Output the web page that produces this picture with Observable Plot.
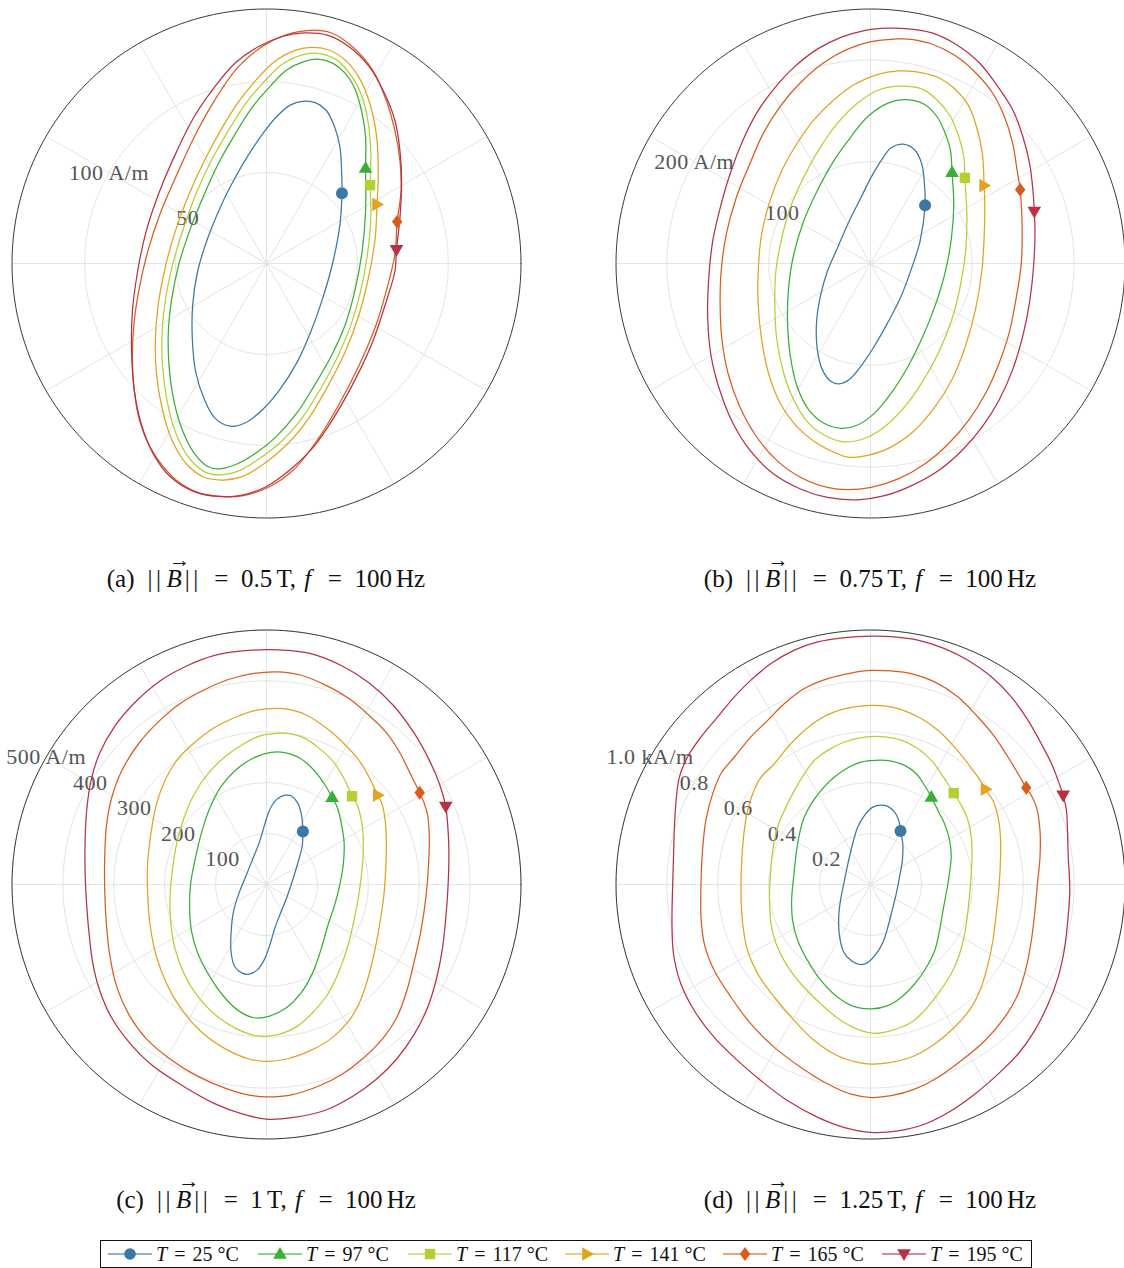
<!DOCTYPE html>
<html><head><meta charset="utf-8">
<script src="https://cdn.jsdelivr.net/npm/d3@7"></script>
<script src="https://cdn.jsdelivr.net/npm/@observablehq/plot@0.6"></script>
<style>
html,body{margin:0;padding:0;background:#fff;}
body{width:1124px;height:1268px;overflow:hidden;position:relative;font-family:'Liberation Serif','DejaVu Serif',serif;color:#111;}
.panel{position:absolute;}
.panel svg text{letter-spacing:0.5px;}
.cap{position:absolute;font-size:25px;line-height:1;white-space:nowrap;transform:translateX(-50%);}
.cap .lab{margin-right:13px;}
.cap .bars{letter-spacing:3.5px;}
.cap .rel{margin:0 0.5em;}
.cap .fi{margin:0 4px 0 2px;}
.vec{position:relative;font-style:italic;margin:0 3px 0 2px;}
.vec::after{content:"\2192";position:absolute;left:0.1em;top:-0.72em;font-size:0.85em;font-style:normal;}
#legend{position:absolute;left:100px;top:1240px;width:930px;height:26px;border:1px solid #111;}
.li{position:absolute;top:0;height:26px;display:flex;align-items:center;font-size:20px;white-space:nowrap;}
.li svg{margin-right:4px;}
.li .rel{margin:0 0.35em;}
</style></head><body>
<div id="root"></div>
<script>
// ---------- data ----------
const temps = [25, 97, 117, 141, 165, 195];
const colors = ["#3b78a5", "#3aae37", "#b3d134", "#e0a322", "#d95c1f", "#b73244"];
const captions = ["(a)", "(b)", "(c)", "(d)"];
const fluxDensity = ["0.5", "0.75", "1", "1.25"];
const frequency = "100";

// panel (a): H in A/m, [Hx, Hy]
const a25 = [[41.5,38.6],[41.3,51.1],[40.4,64.0],[37.5,75.1],[32.8,84.3],[27.2,88.4],[20.6,89.3],[13.0,87.1],[5.5,80.7],[-2.1,71.3],[-9.6,60.3],[-17.2,47.3],[-24.7,32.5],[-32.3,14.0],[-37.9,-4.4],[-40.6,-22.9],[-40.8,-41.5],[-38.9,-59.9],[-34.2,-74.7],[-28.5,-84.9],[-20.0,-89.5],[-11.5,-87.6],[-2.1,-80.3],[7.4,-69.2],[16.8,-54.4],[24.3,-37.7],[30.9,-19.2],[36.6,1.1],[40.4,21.5]];
const a97 = [[54.5,52.5],[54.5,69.5],[52.6,82.5],[48.9,95.5],[43.2,104.7],[35.7,110.5],[28.1,112.4],[20.6,111.1],[11.1,106.5],[1.7,97.2],[-7.7,86.1],[-17.2,71.3],[-26.6,54.7],[-34.2,38.1],[-41.7,19.6],[-48.3,-0.8],[-52.1,-19.2],[-54.0,-37.7],[-53.6,-56.3],[-51.1,-74.7],[-46.4,-91.3],[-39.8,-104.3],[-32.3,-111.7],[-26.6,-113.0],[-17.2,-110.7],[-5.8,-104.3],[5.5,-95.1],[16.8,-82.1],[26.2,-67.3],[35.7,-50.7],[43.2,-34.0],[48.9,-13.7],[52.6,6.7],[54.5,28.8]];
const a117 = [[57.0,43.1],[57.4,60.3],[56.0,76.9],[52.6,91.7],[47.0,102.8],[38.5,112.0],[27.2,115.7],[18.7,114.5],[8.3,109.3],[-2.1,99.1],[-11.5,88.0],[-20.9,73.2],[-30.4,56.5],[-38.9,38.1],[-45.5,19.6],[-51.7,-0.8],[-55.5,-19.2],[-57.4,-37.7],[-57.2,-56.3],[-54.5,-76.5],[-49.6,-94.1],[-42.6,-107.0],[-34.2,-114.5],[-25.7,-116.3],[-15.3,-114.1],[-4.0,-107.4],[8.3,-97.8],[19.6,-84.9],[29.6,-69.2],[38.5,-52.5],[46.0,-35.0],[51.7,-15.5],[55.5,4.8],[57.4,25.2]];
const a141 = [[60.8,32.5],[61.5,51.1],[60.6,69.5],[57.4,86.1],[51.7,100.9],[43.2,112.0],[33.8,117.6],[24.3,118.9],[14.9,117.0],[4.5,111.1],[-5.8,100.9],[-15.3,89.0],[-24.7,74.2],[-34.2,56.5],[-42.6,38.1],[-50.2,17.7],[-55.8,-2.5],[-59.6,-22.9],[-61.1,-41.5],[-60.6,-59.9],[-57.7,-78.4],[-52.1,-96.9],[-43.6,-110.7],[-34.2,-117.6],[-23.8,-119.1],[-13.4,-117.2],[-2.1,-110.7],[11.1,-99.7],[23.4,-84.9],[33.8,-67.3],[43.2,-48.8],[50.8,-28.5],[56.4,-6.3],[59.8,14.0]];
const a165 = [[71.9,22.9],[74.0,40.0],[73.4,56.5],[70.6,73.2],[65.8,89.9],[58.3,106.5],[47.0,119.5],[35.7,126.8],[24.3,128.3],[11.1,125.9],[-2.1,119.5],[-15.3,108.4],[-28.5,89.9],[-39.8,69.5],[-49.2,49.2],[-58.7,27.0],[-65.3,6.7],[-70.0,-13.7],[-72.8,-32.1],[-73.8,-50.7],[-72.8,-69.2],[-70.0,-85.8],[-64.3,-100.5],[-56.8,-111.7],[-47.4,-120.9],[-36.0,-126.5],[-22.8,-128.3],[-13.4,-127.8],[1.7,-122.8],[14.9,-113.5],[28.1,-96.9],[39.4,-78.4],[50.8,-56.3],[60.2,-34.0],[65.8,-15.5],[70.6,4.8]];
const a195 = [[71.5,7.5],[73.4,25.2],[74.3,43.6],[73.4,62.1],[70.6,78.8],[64.9,93.6],[56.4,108.4],[45.1,119.5],[33.8,125.5],[20.6,126.8],[9.2,125.0],[-4.0,119.5],[-17.2,110.3],[-28.5,97.2],[-39.8,80.7],[-49.2,62.1],[-58.7,40.0],[-66.2,17.7],[-70.9,-4.4],[-73.8,-26.7],[-74.2,-48.8],[-72.8,-69.2],[-69.1,-87.6],[-62.5,-104.3],[-53.0,-117.2],[-39.8,-125.5],[-24.7,-128.3],[-13.4,-127.4],[-0.2,-122.8],[13.0,-113.5],[26.2,-100.5],[37.5,-84.0],[48.9,-63.6],[58.3,-43.3],[65.8,-21.1],[70.6,-4.4]];

// panel (b): A/m
const b25 = [[53.6,57.3],[53.0,78.1],[50.3,98.0],[43.7,111.3],[32.1,117.2],[20.5,113.9],[10.6,101.3],[0.7,84.8],[-9.3,64.9],[-20.9,41.7],[-32.5,15.2],[-42.4,-7.9],[-49.0,-31.1],[-53.0,-57.6],[-52.3,-84.1],[-47.4,-104.0],[-39.1,-115.6],[-30.8,-118.2],[-20.9,-113.9],[-9.3,-100.7],[4.0,-80.8],[17.2,-57.6],[30.5,-31.1],[40.4,-4.6],[48.7,21.9]];
const b97 = [[80.1,89.7],[78.5,111.3],[73.5,127.8],[65.2,144.4],[53.6,156.0],[35.4,160.9],[17.2,157.6],[-2.6,144.4],[-19.2,124.5],[-35.8,101.3],[-52.3,71.5],[-65.6,41.7],[-75.5,8.6],[-80.5,-24.5],[-81.5,-57.6],[-78.8,-90.7],[-72.2,-120.5],[-60.6,-143.7],[-45.7,-157.0],[-29.1,-161.9],[-12.6,-158.6],[4.0,-147.0],[20.5,-127.2],[37.1,-100.7],[50.3,-74.2],[63.6,-41.1],[73.5,-7.9],[79.5,25.2],[81.8,58.3]];
const b117 = [[92.7,84.1],[91.7,104.6],[86.8,124.5],[78.5,144.4],[65.2,160.9],[50.3,171.5],[27.2,174.2],[7.3,170.2],[-12.6,157.6],[-32.5,137.7],[-49.0,114.6],[-65.6,84.8],[-78.8,55.0],[-87.1,25.2],[-93.0,-7.9],[-94.0,-41.1],[-92.1,-74.2],[-85.4,-107.3],[-75.5,-133.8],[-60.6,-157.0],[-42.4,-170.2],[-25.8,-175.2],[-6.0,-171.9],[13.9,-160.3],[33.8,-140.4],[50.3,-117.2],[66.9,-87.4],[80.1,-54.3],[88.4,-21.2],[93.4,11.9],[94.7,45.0]];
const b141 = [[111.6,76.5],[109.9,107.9],[105.0,131.1],[96.7,154.3],[83.4,170.9],[66.9,182.5],[43.7,188.4],[27.2,189.1],[7.3,185.8],[-15.9,175.8],[-35.8,160.9],[-55.6,141.1],[-72.2,117.9],[-87.1,91.4],[-98.7,61.6],[-107.0,28.5],[-110.3,-7.9],[-110.3,-41.1],[-107.0,-74.2],[-100.3,-107.3],[-88.7,-137.1],[-72.2,-160.3],[-52.3,-176.8],[-32.5,-186.8],[-22.5,-190.1],[-2.6,-188.4],[20.5,-180.1],[43.7,-163.6],[63.6,-140.4],[80.1,-113.9],[93.4,-80.8],[103.3,-44.4],[109.3,-7.9],[111.6,25.2],[112.3,58.3]];
const b165 = [[147.0,72.5],[144.0,91.4],[139.7,117.9],[131.5,144.4],[119.9,167.5],[103.3,187.4],[83.4,204.0],[60.3,215.6],[37.1,220.5],[23.8,220.5],[0.7,217.9],[-22.5,210.6],[-45.7,197.4],[-68.9,177.5],[-88.7,154.3],[-105.3,127.8],[-118.5,98.0],[-131.8,64.9],[-141.7,28.5],[-146.7,-7.9],[-147.7,-41.1],[-146.0,-74.2],[-140.1,-107.3],[-128.5,-140.4],[-111.9,-170.2],[-92.1,-193.4],[-68.9,-209.9],[-42.4,-219.9],[-22.5,-222.2],[0.7,-219.9],[27.2,-211.6],[53.6,-196.7],[76.8,-176.8],[96.7,-153.6],[113.2,-127.2],[126.5,-97.4],[136.4,-67.5],[143.0,-34.4],[148.0,-1.3],[149.0,31.8]];
const b195 = [[160.9,51.0],[159.6,71.5],[156.3,98.0],[149.7,124.5],[139.7,151.0],[124.8,174.2],[106.6,197.4],[83.4,215.6],[60.3,226.5],[37.1,230.5],[17.2,231.1],[-6.0,228.8],[-29.1,222.2],[-52.3,210.6],[-75.5,192.4],[-95.4,170.9],[-111.9,147.7],[-125.2,121.2],[-136.8,91.4],[-146.7,58.3],[-155.0,21.9],[-158.9,-14.6],[-159.9,-54.3],[-156.6,-90.7],[-148.3,-123.8],[-135.1,-157.0],[-118.5,-183.4],[-95.4,-206.6],[-68.9,-221.5],[-42.4,-229.8],[-12.6,-232.1],[13.9,-228.1],[40.4,-218.2],[66.9,-203.3],[90.1,-183.4],[109.9,-160.3],[126.5,-133.8],[139.7,-104.0],[149.7,-70.9],[156.3,-37.7],[160.3,-1.3],[161.6,31.8]];

// panel (c): A/m
const c25 = [[71.5,103.9],[68.8,136.3],[61.4,159.9],[49.9,173.4],[36.4,175.4],[19.6,166.7],[6.1,146.4],[-4.0,116.1],[-14.2,82.3],[-27.7,48.6],[-41.2,14.8],[-54.7,-18.9],[-64.8,-52.6],[-69.5,-93.1],[-69.5,-133.6],[-62.8,-160.6],[-47.9,-174.1],[-34.4,-176.1],[-17.5,-167.3],[-4.0,-147.1],[6.1,-120.1],[16.2,-86.4],[26.3,-59.4],[39.8,-25.6],[53.3,14.8],[63.4,48.6],[70.2,75.6]];
const c97 = [[128.9,171.4],[114.0,197.0],[93.8,224.0],[66.8,247.6],[33.1,259.8],[6.1,259.1],[-27.7,247.6],[-61.4,224.0],[-88.4,193.7],[-108.6,156.5],[-125.5,109.3],[-139.0,55.3],[-149.1,1.3],[-151.1,-45.9],[-147.1,-93.1],[-135.6,-133.6],[-115.4,-174.1],[-88.4,-214.6],[-54.7,-248.3],[-24.3,-261.8],[6.1,-258.4],[39.8,-241.6],[66.8,-214.6],[90.4,-174.1],[107.3,-126.9],[120.8,-79.6],[134.3,-39.1],[144.4,1.3],[151.1,41.8],[152.5,82.3],[147.8,116.1],[139.7,149.8]];
const c117 = [[168.0,173.4],[154.5,203.8],[134.3,237.5],[107.3,264.5],[73.5,288.1],[46.6,296.2],[19.6,296.9],[-14.2,291.5],[-47.9,274.6],[-81.6,251.0],[-115.4,217.3],[-142.4,176.8],[-162.6,129.6],[-176.1,82.3],[-184.9,28.3],[-189.6,-25.6],[-187.6,-79.6],[-179.5,-126.9],[-162.6,-174.1],[-139.0,-214.6],[-101.9,-255.1],[-61.4,-282.1],[-20.9,-296.9],[19.6,-295.5],[60.1,-278.7],[93.8,-248.3],[120.8,-214.6],[141.0,-174.1],[157.9,-126.9],[171.4,-72.9],[181.5,-18.9],[188.3,35.1],[190.3,82.3],[186.9,122.8],[178.1,156.5]];
const c141 = [[218.6,175.4],[201.8,210.5],[181.5,244.3],[154.5,274.6],[120.8,305.0],[80.3,332.0],[46.6,343.5],[19.6,346.2],[-20.9,342.1],[-61.4,328.6],[-101.9,308.4],[-142.4,278.0],[-176.1,244.3],[-199.7,203.8],[-216.6,156.5],[-226.7,102.6],[-233.5,41.8],[-233.5,-18.9],[-228.7,-79.6],[-216.6,-140.4],[-196.4,-194.3],[-169.4,-241.6],[-128.9,-288.8],[-81.6,-322.5],[-34.4,-342.8],[-0.7,-347.5],[39.8,-342.8],[87.0,-325.9],[127.5,-302.3],[161.3,-268.6],[181.5,-234.8],[198.4,-187.6],[211.9,-133.6],[222.0,-79.6],[230.1,-25.6],[234.1,28.3],[235.5,75.6],[233.5,122.8],[227.4,156.5]];
const c165 = [[300.9,180.2],[282.7,217.3],[262.5,257.8],[235.5,298.2],[201.8,332.0],[161.3,365.7],[114.0,392.7],[66.8,411.6],[19.6,417.7],[-27.7,414.3],[-74.9,402.8],[-122.1,382.6],[-169.4,355.6],[-209.9,321.9],[-250.3,278.0],[-284.1,224.0],[-304.3,170.0],[-314.4,116.1],[-317.8,55.3],[-317.8,-12.1],[-314.4,-79.6],[-307.7,-140.4],[-294.2,-201.1],[-270.6,-255.1],[-236.8,-302.3],[-189.6,-342.8],[-135.6,-376.5],[-81.6,-400.1],[-34.4,-413.6],[-0.7,-417.0],[46.6,-413.6],[100.5,-396.8],[147.8,-373.1],[188.3,-342.8],[228.7,-302.3],[255.7,-261.8],[276.0,-207.8],[289.5,-153.8],[303.0,-93.1],[313.1,-25.6],[318.5,41.8],[319.8,95.8],[316.5,136.3],[309.7,159.9]];
const c195 = [[352.2,153.2],[340.1,197.0],[319.8,244.3],[289.5,298.2],[249.0,352.2],[201.8,396.1],[147.8,429.8],[87.0,453.4],[39.8,460.2],[-0.7,461.5],[-47.9,458.8],[-101.9,450.1],[-155.9,429.8],[-209.9,399.5],[-257.1,359.0],[-297.6,311.7],[-327.9,257.8],[-344.8,203.8],[-352.9,149.8],[-356.3,89.1],[-356.3,21.6],[-352.9,-45.9],[-348.2,-99.9],[-341.4,-153.8],[-327.9,-207.8],[-304.3,-261.8],[-270.6,-309.0],[-223.4,-356.3],[-162.6,-396.8],[-101.9,-430.5],[-47.9,-450.7],[-0.7,-460.9],[53.3,-457.5],[114.0,-444.0],[168.0,-417.0],[215.2,-383.3],[255.7,-342.8],[289.5,-295.5],[316.5,-241.6],[333.3,-187.6],[345.5,-126.9],[352.2,-66.1],[356.9,1.3],[358.3,68.8],[355.6,122.8]];

// panel (d): kA/m
const d25 = [[0.118,0.210],[0.111,0.252],[0.094,0.285],[0.068,0.307],[0.042,0.312],[0.009,0.304],[-0.024,0.271],[-0.050,0.226],[-0.070,0.160],[-0.089,0.081],[-0.105,0.003],[-0.118,-0.063],[-0.125,-0.129],[-0.121,-0.207],[-0.105,-0.266],[-0.076,-0.299],[-0.039,-0.315],[-0.010,-0.306],[0.022,-0.273],[0.049,-0.227],[0.068,-0.168],[0.085,-0.102],[0.101,-0.037],[0.114,0.029],[0.125,0.094],[0.127,0.160]];
const d97 = [[0.239,0.344],[0.212,0.390],[0.180,0.435],[0.134,0.468],[0.081,0.485],[0.022,0.488],[-0.037,0.481],[-0.089,0.459],[-0.142,0.422],[-0.194,0.370],[-0.233,0.317],[-0.260,0.265],[-0.279,0.199],[-0.292,0.121],[-0.302,0.029],[-0.310,-0.063],[-0.306,-0.142],[-0.286,-0.220],[-0.247,-0.299],[-0.194,-0.378],[-0.129,-0.443],[-0.063,-0.480],[0.003,-0.489],[0.068,-0.476],[0.121,-0.443],[0.173,-0.391],[0.212,-0.338],[0.252,-0.260],[0.271,-0.181],[0.285,-0.102],[0.304,0.003],[0.317,0.108],[0.311,0.173],[0.291,0.239],[0.265,0.291]];
const d117 = [[0.327,0.359],[0.304,0.396],[0.278,0.435],[0.239,0.488],[0.186,0.534],[0.121,0.567],[0.055,0.580],[0.016,0.582],[-0.037,0.577],[-0.102,0.560],[-0.168,0.527],[-0.220,0.488],[-0.260,0.435],[-0.299,0.370],[-0.332,0.304],[-0.365,0.226],[-0.384,0.134],[-0.393,0.042],[-0.397,-0.050],[-0.391,-0.155],[-0.371,-0.233],[-0.332,-0.312],[-0.273,-0.391],[-0.194,-0.470],[-0.115,-0.535],[-0.037,-0.574],[0.016,-0.585],[0.081,-0.574],[0.160,-0.542],[0.212,-0.496],[0.265,-0.430],[0.317,-0.351],[0.350,-0.273],[0.370,-0.194],[0.383,-0.102],[0.393,0.003],[0.399,0.108],[0.396,0.186],[0.383,0.252],[0.357,0.311]];
const d141 = [[0.452,0.374],[0.422,0.422],[0.383,0.475],[0.330,0.540],[0.265,0.606],[0.199,0.652],[0.121,0.687],[0.055,0.702],[0.003,0.704],[-0.063,0.698],[-0.142,0.678],[-0.207,0.645],[-0.273,0.593],[-0.325,0.540],[-0.378,0.475],[-0.430,0.422],[-0.463,0.357],[-0.483,0.291],[-0.496,0.212],[-0.505,0.108],[-0.509,-0.024],[-0.502,-0.155],[-0.483,-0.260],[-0.443,-0.351],[-0.378,-0.443],[-0.299,-0.535],[-0.220,-0.614],[-0.129,-0.673],[-0.050,-0.699],[0.003,-0.706],[0.081,-0.699],[0.173,-0.673],[0.252,-0.627],[0.330,-0.561],[0.396,-0.483],[0.435,-0.404],[0.462,-0.312],[0.481,-0.220],[0.494,-0.115],[0.505,-0.010],[0.511,0.108],[0.510,0.199],[0.501,0.265],[0.481,0.330]];
const d165 = [[0.612,0.380],[0.580,0.435],[0.540,0.501],[0.488,0.580],[0.422,0.658],[0.344,0.737],[0.252,0.796],[0.160,0.829],[0.081,0.839],[0.003,0.841],[-0.076,0.831],[-0.168,0.809],[-0.260,0.770],[-0.338,0.711],[-0.404,0.645],[-0.470,0.580],[-0.535,0.501],[-0.588,0.435],[-0.620,0.357],[-0.647,0.252],[-0.660,0.134],[-0.666,0.003],[-0.666,-0.129],[-0.653,-0.233],[-0.614,-0.338],[-0.548,-0.443],[-0.470,-0.548],[-0.378,-0.640],[-0.273,-0.719],[-0.168,-0.784],[-0.076,-0.824],[0.003,-0.837],[0.081,-0.830],[0.173,-0.804],[0.265,-0.758],[0.357,-0.692],[0.449,-0.614],[0.527,-0.522],[0.580,-0.430],[0.612,-0.325],[0.632,-0.220],[0.645,-0.115],[0.656,0.003],[0.666,0.108],[0.666,0.212],[0.652,0.304],[0.632,0.350]];
const d195 = [[0.757,0.350],[0.737,0.409],[0.711,0.475],[0.671,0.553],[0.619,0.645],[0.553,0.737],[0.475,0.816],[0.383,0.881],[0.291,0.927],[0.186,0.960],[0.094,0.973],[0.003,0.976],[-0.102,0.970],[-0.207,0.953],[-0.299,0.921],[-0.391,0.868],[-0.470,0.803],[-0.535,0.737],[-0.601,0.658],[-0.666,0.580],[-0.719,0.501],[-0.751,0.422],[-0.765,0.317],[-0.771,0.212],[-0.774,0.108],[-0.778,-0.024],[-0.780,-0.155],[-0.774,-0.273],[-0.745,-0.391],[-0.692,-0.496],[-0.614,-0.601],[-0.522,-0.692],[-0.430,-0.771],[-0.325,-0.850],[-0.207,-0.915],[-0.102,-0.955],[0.003,-0.974],[0.108,-0.968],[0.212,-0.942],[0.317,-0.889],[0.409,-0.824],[0.501,-0.745],[0.580,-0.666],[0.645,-0.574],[0.698,-0.470],[0.737,-0.365],[0.761,-0.260],[0.774,-0.155],[0.783,-0.024],[0.777,0.108],[0.774,0.212],[0.770,0.291]];

// radial axes
const ringsA = [50, 100], ringLabelsA = ["50", "100 A/m"], rmaxA = 140;
const ringsB = [100, 200], ringLabelsB = ["100", "200 A/m"], rmaxB = 250;
const ringsC = [100, 200, 300, 400, 500], ringLabelsC = ["100", "200", "300", "400", "500 A/m"], rmaxC = 500;
const ringsD = [0.2, 0.4, 0.6, 0.8, 1.0], ringLabelsD = ["0.2", "0.4", "0.6", "0.8", "1.0 kA/m"], rmaxD = 1.0;
const spokeAngles = [0, 30, 60, 90, 120, 150, 180, 210, 240, 270, 300, 330];
const labelAngle = 150;

// ---------- marker shapes ----------
const shapePts = {
  up:    [[0,-7],[-6.8,4.8],[6.8,4.8]],
  square:[[-5.2,-5.2],[5.2,-5.2],[5.2,5.2],[-5.2,5.2]],
  right: [[7,0],[-4.8,-6.8],[-4.8,6.8]],
  diamond:[[0,-7],[5.2,0],[0,7],[-5.2,0]],
  down:  [[0,7],[-6.8,-4.8],[6.8,-4.8]]
};
function polySymbol(pts){
  return {draw(ctx, size){
    const s = Math.sqrt(size / (Math.PI * 36));
    ctx.moveTo(pts[0][0]*s, pts[0][1]*s);
    for (let i = 1; i < pts.length; i++) ctx.lineTo(pts[i][0]*s, pts[i][1]*s);
    ctx.closePath();
  }};
}
const symbols = ["circle", polySymbol(shapePts.up), polySymbol(shapePts.square), polySymbol(shapePts.right), polySymbol(shapePts.diamond), polySymbol(shapePts.down)];
const legendPaths = [null, shapePts.up, shapePts.square, shapePts.right, shapePts.diamond, shapePts.down];

// ---------- panels ----------
const R = 254.5;
const panels = [
  {cx:266, cy:263, rmax:rmaxA, rings:ringsA, labels:ringLabelsA, curves:[a25,a97,a117,a141,a165,a195]},
  {cx:870, cy:263, rmax:rmaxB, rings:ringsB, labels:ringLabelsB, curves:[b25,b97,b117,b141,b165,b195]},
  {cx:266, cy:884, rmax:rmaxC, rings:ringsC, labels:ringLabelsC, curves:[c25,c97,c117,c141,c165,c195]},
  {cx:870, cy:884, rmax:rmaxD, rings:ringsD, labels:ringLabelsD, curves:[d25,d97,d117,d141,d165,d195]}
];
const rad = a => a * Math.PI / 180;
const root = document.getElementById("root");

panels.forEach((p, pi) => {
  const k = R / p.rmax;
  const left = p.cx - 266, top = p.cy - 263;
  const W = Math.min(532, 1124 - left), H = 526;
  const cxL = p.cx - left, cyL = p.cy - top;
  const circle = r => d3.range(0, 361, 2).map(a => ({x: r*Math.cos(rad(a)), y: r*Math.sin(rad(a)), r}));
  const ringPts = p.rings.flatMap(circle);
  const labelData = p.rings.map((r, i) => ({r, label: p.labels[i]}));
  const series = p.curves.flatMap((c, i) => c.map(([x, y]) => ({x, y, T: temps[i]})));
  const marks = [
    Plot.line(ringPts, {x:"x", y:"y", z:"r", stroke:"#e4e4e4", strokeWidth:1}),
    Plot.link(spokeAngles, {x1: () => 0, y1: () => 0, x2: a => p.rmax*Math.cos(rad(a)), y2: a => p.rmax*Math.sin(rad(a)), stroke:"#e4e4e4", strokeWidth:1}),
    Plot.line(circle(p.rmax), {x:"x", y:"y", stroke:"#3a3a3a", strokeWidth:1}),
    Plot.text(labelData, {x: d => d.r*Math.cos(rad(labelAngle)), y: d => d.r*Math.sin(rad(labelAngle)), text:"label", fill:"#555", fontSize:22, fontFamily:"'Liberation Serif', serif"}),
    Plot.line(series, {x:"x", y:"y", z:"T", stroke:"T", curve:"catmull-rom-closed", strokeWidth:1.25})
  ];
  p.curves.forEach((c, i) => {
    marks.push(Plot.dot([c[0]], {x: d => d[0], y: d => d[1], fill: colors[i], symbol: symbols[i], r: 6}));
  });
  const svg = Plot.plot({
    width: W, height: H, margin: 0,
    x: {domain: [-cxL / k, (W - cxL) / k], axis: null},
    y: {domain: [-(H - cyL) / k, cyL / k], axis: null},
    color: {type: "ordinal", domain: temps, range: colors},
    style: {background: "transparent", overflow: "visible"},
    marks
  });
  const div = document.createElement("div");
  div.className = "panel";
  div.style.left = left + "px"; div.style.top = top + "px";
  div.appendChild(svg);
  root.appendChild(div);

  const cap = document.createElement("div");
  cap.className = "cap";
  cap.style.left = p.cx + "px";
  cap.style.top = (p.cy + 303) + "px";
  cap.innerHTML = `<span class="lab">${captions[pi]}</span><span class="bars">||</span><span class="vec">B</span><span class="bars">||</span><span class="rel">=</span>${fluxDensity[pi]}&#8202;&#8202;T, <i class="fi">f</i><span class="rel">=</span>${frequency}&#8202;&#8202;Hz`;
  root.appendChild(cap);
});

// ---------- legend ----------
const legend = document.createElement("div");
legend.id = "legend";
const itemX = [7, 157, 307, 464, 622, 781];
temps.forEach((t, i) => {
  const it = document.createElement("div");
  it.className = "li";
  it.style.left = itemX[i] + "px";
  let shape;
  if (i === 0) shape = `<circle cx="22" cy="13" r="5.8" fill="${colors[i]}"/>`;
  else shape = `<path transform="translate(22,13)" d="M${legendPaths[i].map(q => q.join(",")).join("L")}Z" fill="${colors[i]}"/>`;
  it.innerHTML = `<svg width="44" height="26"><line x1="0" y1="13" x2="44" y2="13" stroke="${colors[i]}" stroke-opacity="0.75" stroke-width="1.6"/>${shape}</svg><span><i>T</i><span class="rel">=</span>${t} °C</span>`;
  legend.appendChild(it);
});
document.body.appendChild(legend);
</script>
</body></html>
